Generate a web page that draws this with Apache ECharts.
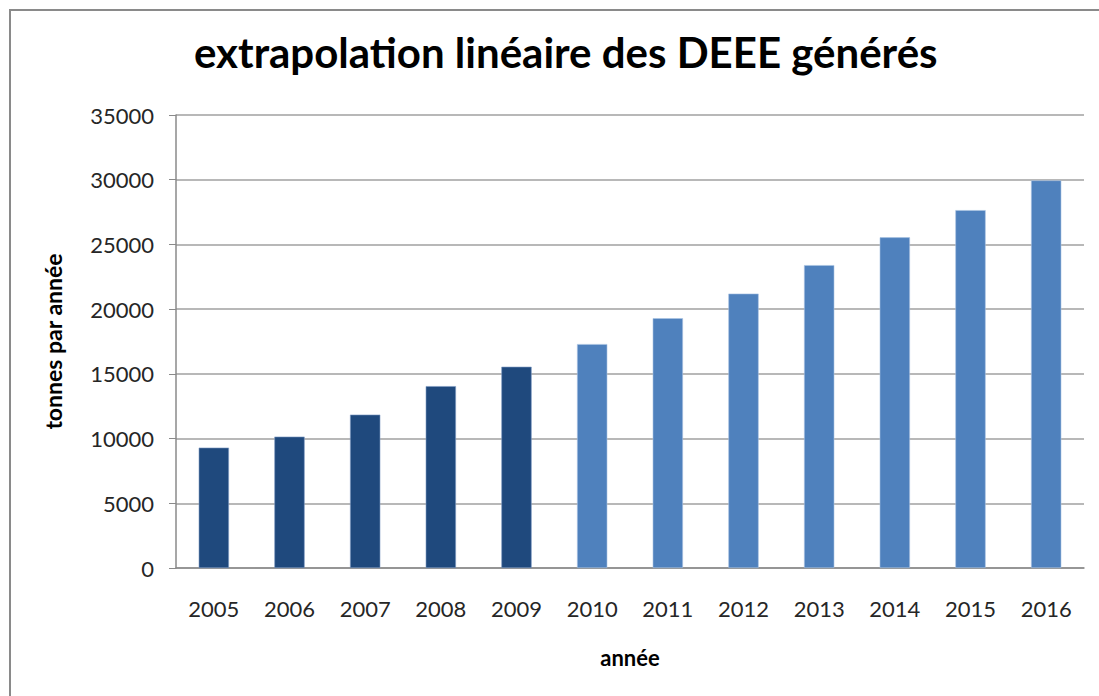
<!DOCTYPE html>
<html>
<head>
<meta charset="utf-8">
<script src="https://cdn.jsdelivr.net/npm/echarts@6/dist/echarts.min.js"></script>
<style>
  html, body { margin: 0; padding: 0; background: #ffffff; }
  #frame {
    position: absolute; left: 9px; top: 9px; width: 1100px; height: 700px;
    border-left: 2px solid #8a8a8a; border-top: 2px solid #8a8a8a;
  }
  #chart { position: absolute; left: 0; top: 0; width: 1099px; height: 696px; }
</style>
</head>
<body>
<div id="frame"></div>
<div id="chart"></div>
<script>
(function() {
    var years = ['2005', '2006', '2007', '2008', '2009', '2010', '2011', '2012', '2013', '2014', '2015', '2016'];
    // observed tonnages, 2005-2009
    var measured = [9300, 10150, 11850, 14050, 15550];
    // linear extrapolation, 2010-2016
    var extrapolated = [17300, 19300, 21200, 23400, 25550, 27650, 29950];
    var yTicks = [0, 5000, 10000, 15000, 20000, 25000, 30000, 35000];

    var ink = '#262626';
    var rule = '#a0a0a0';
    var font = 'Lato';

    var measuredData = years.map(function(y, i) { return i < measured.length ? measured[i] : '-'; });
    var extraData = years.map(function(y, i) {
        var k = i - measured.length;
        return k >= 0 ? extrapolated[k] : '-';
    });

    var chart = echarts.init(document.getElementById('chart'), null, { renderer: 'svg' });

    chart.setOption({
        animation: false,
        title: {
            text: 'extrapolation linéaire des DEEE générés',
            left: 189,
            top: 26,
            textStyle: { fontFamily: font, fontSize: 42, fontWeight: 'bold', color: '#000000' }
        },
        grid: { left: 176, right: 15, top: 115, bottom: 128 },
        xAxis: {
            type: 'category',
            data: years,
            name: 'année',
            nameLocation: 'middle',
            nameGap: 78,
            nameTextStyle: { fontFamily: font, fontSize: 22, fontWeight: 'bold', color: '#000000' },
            axisLine: { lineStyle: { color: '#8a8a8a', width: 1.5 } },
            axisTick: { show: false },
            axisLabel: { fontFamily: font, fontSize: 22, color: ink, margin: 29 }
        },
        yAxis: {
            type: 'value',
            min: yTicks[0],
            max: yTicks[yTicks.length - 1],
            interval: yTicks[1] - yTicks[0],
            name: 'tonnes par année',
            nameLocation: 'middle',
            nameGap: 112,
            nameTextStyle: { fontFamily: font, fontSize: 23, fontWeight: 'bold', color: '#000000' },
            axisLine: { show: true, lineStyle: { color: '#8a8a8a', width: 1.5 } },
            axisTick: { show: true, length: 7, lineStyle: { color: '#8a8a8a' } },
            splitLine: { lineStyle: { color: rule, width: 1.5 } },
            axisLabel: {
                fontFamily: font, fontSize: 22, color: ink, margin: 22,
                formatter: function(v) { return String(v); }
            }
        },
        series: [
            {
                name: 'mesuré',
                type: 'bar',
                data: measuredData,
                barWidth: '40%',
                barGap: '-100%',
                itemStyle: { color: '#1f497d', borderColor: '#7f9cc4', borderWidth: 0.6 }
            },
            {
                name: 'extrapolé',
                type: 'bar',
                data: extraData,
                barWidth: '40%',
                itemStyle: { color: '#4f81bd', borderColor: '#a9c3e3', borderWidth: 0.6 }
            }
        ]
    });
    window.addEventListener('resize', function() { chart.resize(); });
})();
</script>
</body>
</html>
